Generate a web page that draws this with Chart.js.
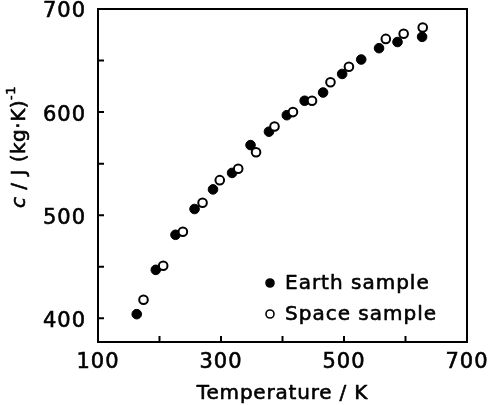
<!DOCTYPE html>
<html>
<head>
<meta charset="utf-8">
<script src="https://cdn.jsdelivr.net/npm/chart.js@4"></script>
<style>
  html, body { margin: 0; padding: 0; background: #fff; }
  #wrap { width: 488px; height: 405px; }
</style>
</head>
<body>
<div id="wrap"><canvas id="chart"></canvas></div>
<script>
// values
const earthT = [163, 194, 226, 257, 287, 318, 348, 378, 407, 436, 466, 497, 528, 557, 587, 627];
const earthC = [404, 447, 481, 506, 525, 541, 568, 581, 597, 611, 619, 637, 651, 662, 668, 673];
const spaceT = [174, 206, 238, 270, 298, 328, 357, 387, 417, 448, 478, 508, 568, 597, 628];
const spaceC = [418, 451, 484, 512, 534, 545, 561, 586, 600, 611, 629, 644, 671, 676, 682];
const xTicks = [100, 200, 300, 400, 500, 600, 700];
const yTicks = [400, 450, 500, 550, 600, 650, 700];
const xTitle = 'Temperature / K';

const FONT = "'DejaVu Sans', sans-serif";
const INK = 0.6; // extra stroke to get the heavier lettering of the original

const toPoints = (xs, ys) => xs.map((v, i) => ({ x: v, y: ys[i] }));

// slightly spaced digits like the original lettering
const spacing = {
  id: 'spacing',
  beforeDraw(chart) { chart.ctx.letterSpacing = '1px'; }
};

function inkText(ctx, s, x, y) {
  ctx.fillText(s, x, y);
  ctx.strokeText(s, x, y);
}

// box, inward ticks, titles and legend
const frame = {
  id: 'frame',
  afterDraw(chart) {
    const { ctx, chartArea: a, scales: { x, y } } = chart;
    ctx.save();
    ctx.letterSpacing = '0px';
    ctx.strokeStyle = '#000';
    ctx.lineWidth = 2;
    ctx.strokeRect(a.left, a.top, a.right - a.left, a.bottom - a.top);
    ctx.beginPath();
    x.ticks.forEach(t => {
      const px = x.getPixelForValue(t.value);
      ctx.moveTo(px, a.bottom);
      ctx.lineTo(px, a.bottom - 6);
    });
    y.ticks.forEach(t => {
      const py = y.getPixelForValue(t.value);
      ctx.moveTo(a.left, py);
      ctx.lineTo(a.left + 6, py);
    });
    ctx.stroke();

    ctx.fillStyle = '#000';
    ctx.lineWidth = INK;
    ctx.lineJoin = 'round';

    // x title
    ctx.font = '20px ' + FONT;
    ctx.letterSpacing = '0.8px';
    ctx.textAlign = 'center';
    ctx.textBaseline = 'alphabetic';
    inkText(ctx, xTitle, (a.left + a.right) / 2, 399);
    ctx.textAlign = 'left';

    // y title: c / J (kg·K)^-1
    ctx.save();
    ctx.letterSpacing = '0.5px';
    ctx.translate(20, 147);
    ctx.rotate(-Math.PI / 2);
    ctx.textBaseline = 'middle';
    const parts = [
      { t: 'c', f: 'italic 20px ' + FONT, dy: 0 },
      { t: ' / J (kg·K)', f: '20px ' + FONT, dy: 0 },
      { t: '-1', f: '13px ' + FONT, dy: -8 }
    ];
    let w = 0;
    parts.forEach(p => { ctx.font = p.f; w += ctx.measureText(p.t).width; });
    let cx = -w / 2;
    parts.forEach(p => {
      ctx.font = p.f;
      inkText(ctx, p.t, cx, p.dy);
      cx += ctx.measureText(p.t).width;
    });
    ctx.restore();

    // legend
    ctx.font = '20px ' + FONT;
    ctx.letterSpacing = '1px';
    ctx.textBaseline = 'middle';
    chart.data.datasets.slice().sort((p, q) => q.order - p.order).forEach((ds, i) => {
      const ly = 283 + i * 31;
      ctx.beginPath();
      ctx.arc(270, ly, 4, 0, Math.PI * 2);
      ctx.fillStyle = ds.backgroundColor;
      ctx.fill();
      ctx.lineWidth = 1.6;
      ctx.stroke();
      ctx.fillStyle = '#000';
      ctx.lineWidth = INK;
      inkText(ctx, ds.label, 285, ly + 1);
    });
    ctx.restore();
  }
};

new Chart(document.getElementById('chart'), {
  type: 'scatter',
  data: {
    datasets: [
      {
        label: 'Earth sample',
        data: toPoints(earthT, earthC),
        pointRadius: 4.8,
        pointBackgroundColor: '#000',
        pointBorderColor: '#000',
        backgroundColor: '#000',
        borderColor: '#000',
        pointBorderWidth: 1,
        order: 1
      },
      {
        label: 'Space sample',
        data: toPoints(spaceT, spaceC),
        pointRadius: 4.3,
        pointBackgroundColor: '#fff',
        pointBorderColor: '#000',
        backgroundColor: '#fff',
        borderColor: '#000',
        pointBorderWidth: 2,
        order: 0
      }
    ]
  },
  options: {
    responsive: true,
    maintainAspectRatio: false,
    animation: false,
    layout: { padding: { top: 9, right: 21, left: 0, bottom: 0 } },
    plugins: { legend: { display: false }, tooltip: { enabled: false } },
    scales: {
      x: {
        type: 'linear',
        min: 100,
        max: 700,
        afterBuildTicks: s => { s.ticks = xTicks.map(v => ({ value: v })); },
        afterFit: s => { s.height = 63; s.paddingLeft = 0; s.paddingRight = 0; },
        grid: { display: false },
        border: { display: false },
        ticks: {
          color: '#000',
          font: { family: FONT, size: 21 },
          textStrokeColor: '#000',
          textStrokeWidth: INK,
          padding: 0,
          maxRotation: 0,
          autoSkip: false,
          callback: v => ((v - 100) % 200 === 0 ? v : '')
        }
      },
      y: {
        type: 'linear',
        min: 377,
        max: 700,
        afterBuildTicks: s => { s.ticks = yTicks.map(v => ({ value: v })); },
        afterFit: s => { s.width = 98; s.paddingTop = 0; s.paddingBottom = 0; },
        grid: { display: false },
        border: { display: false },
        ticks: {
          color: '#000',
          font: { family: FONT, size: 21 },
          textStrokeColor: '#000',
          textStrokeWidth: INK,
          padding: 4,
          labelOffset: 3,
          autoSkip: false,
          callback: v => (v % 100 === 0 ? v : '')
        }
      }
    }
  },
  plugins: [spacing, frame]
});
</script>
</body>
</html>
